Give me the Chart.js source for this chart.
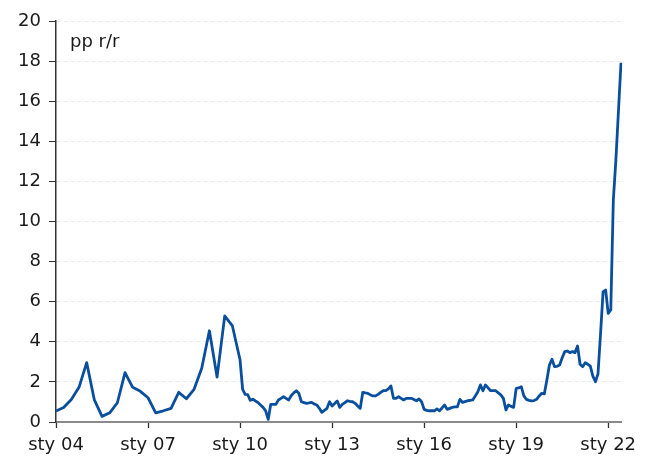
<!DOCTYPE html>
<html><head><meta charset="utf-8">
<script src="https://cdn.jsdelivr.net/npm/chart.js@4/dist/chart.umd.min.js"></script>
<style>html,body{margin:0;padding:0;background:#fff}#wrap{width:656px;height:461px;position:relative}</style>
</head><body><div id="wrap"><canvas id="c" width="656" height="461"></canvas></div>
<script>
// ---- data ----
const monthNames = ['sty','lut','mar','kwi','maj','cze','lip','sie','wrz','paź','lis','gru'];
const years = ['04','05','06','07','08','09','10','11','12','13','14','15','16','17','18','19','20','21','22'];
const lastMonthIn2022 = 6; // data ends in June 2022
const tickLabels = ['sty 04','sty 07','sty 10','sty 13','sty 16','sty 19','sty 22'];
const yTicks = [0,2,4,6,8,10,12,14,16,18,20];
const unitLabel = 'pp r/r';
// quarterly readings 2004-2009 (first month of each quarter)
const quarterly2004_2009 = [0.55, 0.72, 1.12, 1.73, 2.96, 1.10, 0.28, 0.46, 0.96, 2.46, 1.73, 1.53,
  1.21, 0.46, 0.56, 0.68, 1.48, 1.16, 1.63, 2.68, 4.55, 2.24, 5.29, 4.79];
// monthly readings Jan 2010 - Jun 2022
const monthly2010 = [3.09, 1.63, 1.38, 1.36, 1.08, 1.14, 1.05, 0.97, 0.85, 0.73, 0.56, 0.13];
const monthly2011 = [0.88, 0.88, 0.88, 1.10, 1.18, 1.26, 1.18, 1.10, 1.31, 1.45, 1.56, 1.43];
const monthly2012 = [1.01, 0.97, 0.93, 0.95, 0.98, 0.90, 0.85, 0.68, 0.48, 0.58, 0.68, 1.01];
const monthly2013 = [0.80, 0.92, 1.05, 0.73, 0.88, 0.97, 1.06, 1.03, 1.01, 0.93, 0.80, 0.68];
const monthly2014 = [1.48, 1.45, 1.43, 1.35, 1.30, 1.30, 1.38, 1.48, 1.56, 1.56, 1.65, 1.80];
const monthly2015 = [1.18, 1.18, 1.26, 1.18, 1.10, 1.18, 1.18, 1.18, 1.12, 1.06, 1.15, 1.01];
const monthly2016 = [0.63, 0.58, 0.56, 0.56, 0.56, 0.65, 0.56, 0.70, 0.85, 0.63, 0.68, 0.73];
const monthly2017 = [0.75, 0.76, 1.13, 0.98, 1.02, 1.06, 1.08, 1.10, 1.30, 1.51, 1.85, 1.56];
const monthly2018 = [1.85, 1.70, 1.56, 1.56, 1.56, 1.45, 1.35, 1.18, 0.60, 0.85, 0.78, 0.73];
const monthly2019 = [1.68, 1.70, 1.76, 1.30, 1.13, 1.08, 1.05, 1.07, 1.13, 1.30, 1.43, 1.40];
const monthly2020 = [2.10, 2.84, 3.13, 2.76, 2.78, 2.84, 3.20, 3.51, 3.54, 3.46, 3.51, 3.46];
const monthly2021 = [3.79, 2.88, 2.76, 2.96, 2.88, 2.79, 2.29, 2.01, 2.40, 4.40, 6.50, 6.58];
const monthly2022 = [5.42, 5.59, 11.07, 13.07, 15.50, 17.92];

// ---- build table ----
const labels = [];
years.forEach((y, yi) => {
  const n = (yi === years.length - 1) ? lastMonthIn2022 : 12;
  for (let m = 0; m < n; m++) labels.push(monthNames[m] + ' ' + y);
});
const monthlyAll = [].concat(monthly2010, monthly2011, monthly2012, monthly2013, monthly2014, monthly2015,
  monthly2016, monthly2017, monthly2018, monthly2019, monthly2020, monthly2021, monthly2022);
const values = labels.map((l, i) => {
  if (i < 72) return (i % 3 === 0) ? quarterly2004_2009[i / 3] : null;
  return monthlyAll[i - 72];
});

const FONT = 'DejaVu Sans';
const unitPlugin = {
  id: 'unitLabel',
  afterDraw(chart) {
    const {ctx, chartArea} = chart;
    ctx.save();
    ctx.font = '18px "' + FONT + '"';
    ctx.fillStyle = '#1a1a1a';
    ctx.textBaseline = 'alphabetic';
    ctx.fillText(unitLabel, chartArea.left + 14, chartArea.top + 26);
    ctx.restore();
  }
};

new Chart(document.getElementById('c'), {
  type: 'line',
  data: { labels, datasets: [{
    data: values, borderColor: '#0a4f9e', borderWidth: 2.8, pointRadius: 0,
    tension: 0, spanGaps: true, fill: false, borderJoinStyle: 'round'
  }]},
  options: {
    responsive: false, animation: false, devicePixelRatio: 1,
    layout: { padding: { left: 0, right: 35, top: 21, bottom: 0 } },
    plugins: { legend: { display: false }, tooltip: { enabled: false } },
    scales: {
      x: {
        type: 'category', offset: false,
        afterFit(s) { s.height = 39; },
        grid: { display: true, drawOnChartArea: false, drawTicks: true, tickLength: 6, tickColor: '#333', tickWidth: 1.3 },
        border: { display: true, color: '#8a8a8a', width: 2 },
        ticks: {
          autoSkip: false, maxRotation: 0, minRotation: 0, padding: 7,
          color: '#1a1a1a', font: { family: FONT, size: 18 },
          callback(v, i) { const l = labels[i]; return tickLabels.includes(l) ? l : null; }
        }
      },
      y: {
        min: 0, max: 20,
        afterFit(s) { s.width = 56; },
        afterBuildTicks(s) { s.ticks = yTicks.map(v => ({ value: v })); },
        grid: { color: '#ebebeb', lineWidth: 1, tickColor: '#333', tickLength: 7, tickBorderDash: [] },
        border: { display: true, color: '#333', width: 1.5, dash: [4, 3] },
        ticks: { padding: 8, color: '#1a1a1a', font: { family: FONT, size: 18 } }
      }
    }
  },
  plugins: [unitPlugin]
});
</script></body></html>
